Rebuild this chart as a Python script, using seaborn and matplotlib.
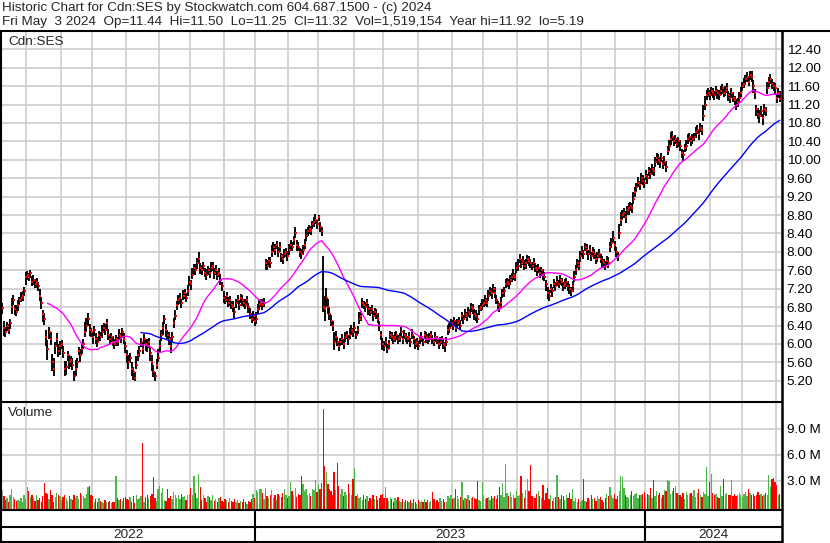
import numpy as np
import pandas as pd
import matplotlib
matplotlib.use("Agg")
import matplotlib.pyplot as plt
import seaborn as sns
from matplotlib.lines import Line2D
from matplotlib.transforms import blended_transform_factory

# ------------------------------------------------------------------ text
header_1 = "Historic Chart for Cdn:SES by Stockwatch.com 604.687.1500 - (c) 2024"
header_2 = ("Fri May  3 2024  Op=11.44  Hi=11.50  Lo=11.25  Cl=11.32  "
            "Vol=1,519,154  Year hi=11.92  lo=5.19")
symbol_label = "Cdn:SES"
volume_label = "Volume"

# ------------------------------------------------------------------ calendar (TSX trading days)
first_day = "2022-05-09"
last_day = "2024-05-03"
tsx_holidays = ["2022-05-23", "2022-07-01", "2022-08-01", "2022-09-05", "2022-10-10",
                "2022-12-26", "2022-12-27",
                "2023-01-02", "2023-02-20", "2023-04-07", "2023-05-22", "2023-07-03",
                "2023-08-07", "2023-09-04", "2023-10-09", "2023-12-25", "2023-12-26",
                "2024-01-01", "2024-02-19", "2024-03-29"]

# ------------------------------------------------------------------ daily closes
close = [
    6.79, 6.35, 6.25, 6.40, 6.30, 6.45, 6.80, 6.95, 6.75, 6.70,
    6.85, 6.95, 7.00, 7.05, 7.15, 7.45, 7.50, 7.45, 7.55, 7.35,
    7.40, 7.30, 7.35, 7.25, 7.05, 6.90, 6.65, 6.55, 6.15, 5.88,
    6.25, 6.10, 5.60, 5.45, 5.95, 6.10, 5.85, 5.95, 6.00, 5.80,
    5.45, 5.50, 5.75, 5.60, 5.65, 5.55, 5.30, 5.45, 5.60, 5.85,
    5.75, 5.90, 6.00, 6.25, 6.40, 6.55, 6.30, 6.25, 6.15, 6.30,
    6.10, 6.05, 6.20, 6.15, 6.25, 6.35, 6.30, 6.45, 6.20, 6.10,
    6.15, 6.05, 6.00, 6.10, 6.05, 6.20, 6.15, 6.25, 6.10, 5.95,
    5.75, 5.60, 5.70, 5.45, 5.40, 5.25, 5.55, 5.75, 5.85, 6.05,
    5.90, 6.10, 6.00, 5.95, 6.05, 5.80, 5.60, 5.40, 5.30, 5.55,
    5.70, 5.95, 6.20, 6.35, 6.55, 6.30, 6.20, 6.10, 5.95, 6.15,
    6.46, 6.60, 6.85, 6.95, 7.00, 6.90, 7.05, 7.10, 7.00, 7.15,
    7.35, 7.30, 7.50, 7.65, 7.60, 7.75, 7.85, 7.65, 7.60, 7.70,
    7.55, 7.50, 7.60, 7.55, 7.65, 7.70, 7.55, 7.60, 7.50, 7.55,
    7.40, 7.25, 7.00, 6.95, 7.05, 6.90, 6.95, 6.85, 6.80, 6.70,
    6.90, 6.95, 6.85, 7.00, 6.95, 6.90, 6.85, 6.95, 6.80, 6.65,
    6.55, 6.60, 6.50, 6.55, 6.75, 6.85, 6.90, 6.85, 6.90, 7.75,
    7.70, 7.80, 7.75, 8.00, 8.10, 8.05, 8.15, 8.00, 8.10, 7.90,
    7.85, 7.95, 8.00, 7.90, 8.05, 8.15, 8.10, 8.25, 8.40, 8.15,
    8.10, 8.00, 7.95, 8.05, 8.15, 8.35, 8.45, 8.50, 8.45, 8.60,
    8.65, 8.70, 8.60, 8.75, 8.55, 8.45, 6.80, 6.75, 7.00, 6.80,
    6.65, 6.50, 6.38, 6.05, 6.15, 6.05, 5.95, 6.05, 6.10, 6.00,
    6.15, 6.20, 6.10, 6.20, 6.30, 6.25, 6.35, 6.20, 6.30, 6.55,
    6.60, 6.90, 6.85, 6.80, 6.90, 6.75, 6.70, 6.75, 6.60, 6.70,
    6.65, 6.55, 6.40, 6.20, 6.00, 5.95, 6.05, 5.90, 6.00, 6.20,
    6.15, 6.10, 6.15, 6.20, 6.10, 6.15, 6.25, 6.10, 6.20, 6.15,
    6.10, 6.15, 6.05, 6.20, 6.10, 6.00, 6.05, 5.95, 6.10, 6.15,
    6.05, 6.20, 6.15, 6.10, 6.15, 6.20, 6.10, 6.05, 6.15, 6.10,
    6.00, 6.05, 6.10, 6.00, 5.95, 6.05, 6.30, 6.35, 6.45, 6.40,
    6.50, 6.35, 6.45, 6.50, 6.40, 6.60, 6.55, 6.65, 6.60, 6.70,
    6.65, 6.80, 6.75, 6.65, 6.60, 6.55, 6.75, 6.80, 6.85, 6.90,
    6.95, 6.90, 7.05, 7.15, 7.10, 7.20, 7.10, 6.95, 6.85, 6.80,
    6.90, 7.10, 7.15, 7.30, 7.35, 7.30, 7.40, 7.45, 7.50, 7.45,
    7.65, 7.70, 7.85, 7.75, 7.80, 7.70, 7.75, 7.85, 7.80, 7.75,
    7.70, 7.75, 7.65, 7.60, 7.65, 7.55, 7.60, 7.50, 7.45, 7.30,
    7.10, 7.05, 7.20, 7.15, 7.30, 7.25, 7.35, 7.30, 7.40, 7.35,
    7.25, 7.30, 7.35, 7.25, 7.20, 7.15, 7.25, 7.45, 7.60, 7.75,
    7.70, 7.90, 8.00, 7.95, 8.10, 8.05, 7.95, 8.05, 7.90, 8.00,
    7.95, 7.85, 7.90, 7.95, 7.85, 7.80, 7.75, 7.70, 7.80, 7.75,
    8.10, 8.20, 8.30, 8.15, 8.00, 7.90, 8.40, 8.70, 8.80, 8.85,
    8.75, 8.90, 8.95, 9.00, 8.95, 9.15, 9.30, 9.40, 9.50, 9.45,
    9.60, 9.55, 9.50, 9.65, 9.60, 9.75, 9.70, 9.80, 9.75, 9.95,
    10.05, 10.00, 9.95, 10.05, 9.90, 9.95, 9.85, 10.20, 10.30, 10.45,
    10.50, 10.40, 10.45, 10.35, 10.40, 10.30, 10.15, 10.10, 10.25, 10.30,
    10.45, 10.50, 10.40, 10.45, 10.50, 10.60, 10.65, 10.55, 10.70, 10.65,
    10.95, 11.20, 11.40, 11.45, 11.40, 11.50, 11.45, 11.40, 11.50, 11.45,
    11.40, 11.50, 11.55, 11.45, 11.50, 11.55, 11.40, 11.35, 11.45, 11.35,
    11.30, 11.20, 11.25, 11.35, 11.45, 11.60, 11.65, 11.75, 11.80, 11.70,
    11.85, 11.80, 11.60, 11.45, 11.10, 11.00, 10.95, 11.05, 10.90, 11.10,
    11.05, 11.55, 11.70, 11.75, 11.65, 11.60, 11.55, 11.35, 11.45, 11.32,
]

# daily high above close, in cents
high_above_cents = [
    10, 15, 12, 8, 14, 10, 20, 12, 9, 15, 11, 8, 13, 10, 9, 12, 8, 10, 6, 12,
    9, 12, 8, 10, 14, 12, 9, 13, 15, 20, 12, 16, 18, 25, 10, 14, 16, 12, 9, 15,
    18, 12, 10, 16, 8, 14, 12, 20, 10, 9, 14, 12, 10, 22, 16, 12, 14, 10, 12, 9,
    14, 10, 8, 12, 16, 10, 14, 9, 12, 10, 8, 13, 11, 9, 10, 12, 8, 10, 14, 9,
    12, 15, 10, 16, 9, 14, 18, 12, 10, 9, 14, 12, 10, 15, 9, 12, 16, 14, 10, 12,
    18, 14, 10, 12, 9, 14, 10, 16, 20, 12, 10, 14, 9, 12, 10, 8, 12, 9, 11, 14,
    12, 10, 15, 9, 13, 11, 14, 10, 12, 8, 10, 12, 9, 11, 13, 8, 10, 12, 9, 10,
    12, 9, 14, 10, 8, 12, 10, 9, 14, 11, 8, 12, 10, 9, 11, 8, 12, 10, 9, 13,
    10, 12, 9, 14, 12, 10, 8, 12, 9, 10, 12, 8, 14, 16, 11, 12, 9, 10, 12, 8,
    10, 12, 9, 11, 13, 10, 12, 9, 14, 10, 12, 9, 11, 10, 12, 14, 10, 9, 12, 8,
    10, 12, 9, 6, 10, 8, 110, 30, 22, 18, 16, 14, 12, 20, 14, 10, 12, 9, 11, 10,
    12, 9, 10, 14, 11, 10, 12, 8, 10, 14, 12, 10, 9, 11, 8, 12, 10, 9, 11, 8,
    10, 12, 9, 8, 14, 12, 10, 11, 9, 8, 10, 9, 12, 8, 10, 9, 11, 8, 10, 9,
    8, 10, 9, 12, 8, 10, 9, 11, 8, 10, 9, 8, 10, 12, 9, 8, 10, 9, 11, 8,
    9, 10, 8, 11, 9, 10, 12, 10, 9, 11, 8, 12, 10, 9, 11, 10, 8, 12, 9, 10,
    11, 9, 12, 10, 14, 12, 9, 10, 12, 8, 11, 10, 13, 9, 12, 10, 14, 11, 9, 10,
    12, 10, 9, 11, 8, 12, 10, 9, 13, 10, 12, 14, 10, 9, 11, 12, 10, 9, 12, 10,
    9, 11, 10, 12, 9, 10, 8, 12, 11, 9, 14, 12, 10, 9, 11, 10, 12, 9, 10, 8,
    10, 12, 9, 11, 10, 9, 12, 14, 12, 10, 13, 11, 12, 10, 9, 12, 10, 11, 9, 10,
    12, 10, 9, 11, 10, 12, 9, 10, 12, 14, 12, 10, 16, 9, 11, 10, 20, 16, 12, 10,
    14, 10, 12, 9, 11, 14, 12, 10, 12, 9, 11, 13, 10, 12, 9, 10, 12, 11, 10, 12,
    10, 12, 11, 9, 10, 14, 12, 10, 13, 15, 12, 10, 9, 11, 10, 12, 9, 11, 10, 12,
    11, 9, 12, 10, 9, 11, 10, 12, 9, 10, 25, 18, 12, 10, 11, 9, 12, 10, 11, 9,
    12, 10, 9, 11, 10, 12, 9, 11, 10, 12, 9, 11, 10, 12, 14, 10, 12, 9, 11, 8,
    7, 12, 14, 9, 10, 12, 14, 11, 10, 12, 9, 14, 10, 12, 11, 10, 12, 9, 10, 18,
]

# daily low below close, in cents
low_below_cents = [
    14, 18, 10, 12, 8, 12, 15, 10, 12, 9, 14, 10, 8, 12, 10, 18, 12, 9, 11, 10,
    12, 9, 14, 10, 12, 15, 18, 14, 20, 22, 15, 12, 18, 14, 16, 12, 14, 18, 12, 10,
    15, 18, 12, 14, 16, 12, 10, 14, 12, 10, 15, 11, 12, 10, 14, 16, 12, 10, 14, 12,
    10, 12, 14, 9, 11, 12, 10, 14, 12, 9, 11, 10, 12, 14, 9, 10, 12, 11, 10, 14,
    16, 14, 12, 15, 18, 6, 10, 12, 14, 11, 12, 10, 15, 12, 14, 16, 18, 12, 10, 9,
    10, 12, 14, 16, 12, 15, 10, 12, 14, 11, 12, 9, 12, 10, 14, 11, 10, 12, 9, 11,
    10, 12, 9, 14, 10, 12, 11, 13, 10, 12, 9, 11, 10, 12, 9, 11, 13, 10, 12, 9,
    11, 10, 12, 9, 13, 10, 12, 9, 10, 14, 12, 9, 11, 10, 12, 9, 10, 11, 12, 10,
    9, 11, 10, 12, 9, 11, 10, 12, 9, 15, 10, 12, 9, 11, 10, 12, 9, 11, 10, 12,
    11, 9, 12, 10, 11, 12, 9, 11, 10, 12, 9, 11, 10, 12, 9, 11, 10, 12, 9, 11,
    10, 9, 11, 8, 12, 10, 10, 25, 20, 15, 14, 12, 10, 18, 12, 10, 11, 9, 12, 10,
    11, 10, 12, 9, 11, 10, 12, 10, 9, 11, 10, 12, 9, 11, 10, 12, 9, 10, 11, 9,
    10, 9, 11, 12, 14, 10, 12, 9, 11, 10, 9, 11, 10, 12, 9, 10, 11, 9, 10, 11,
    9, 10, 11, 9, 10, 12, 11, 9, 10, 11, 9, 10, 12, 9, 10, 11, 9, 10, 11, 9,
    10, 9, 11, 10, 12, 9, 10, 11, 9, 10, 11, 9, 10, 12, 9, 10, 11, 9, 10, 11,
    9, 11, 10, 12, 11, 10, 12, 9, 11, 10, 12, 9, 11, 10, 12, 10, 11, 9, 12, 10,
    11, 10, 12, 9, 11, 10, 12, 11, 10, 9, 11, 12, 10, 11, 9, 10, 12, 11, 10, 9,
    10, 11, 9, 12, 10, 11, 10, 12, 9, 14, 12, 11, 10, 12, 9, 11, 10, 9, 12, 10,
    11, 10, 12, 9, 11, 10, 12, 10, 11, 9, 10, 12, 11, 10, 9, 11, 12, 10, 9, 11,
    10, 12, 11, 9, 10, 12, 11, 10, 9, 11, 10, 12, 10, 14, 11, 10, 12, 14, 10, 11,
    12, 10, 14, 11, 10, 12, 11, 10, 9, 11, 12, 10, 11, 9, 12, 10, 11, 12, 10, 11,
    10, 11, 12, 10, 11, 9, 12, 10, 11, 12, 10, 9, 11, 10, 12, 11, 10, 12, 9, 11,
    10, 12, 9, 11, 10, 12, 9, 11, 10, 12, 10, 12, 11, 9, 10, 12, 11, 10, 9, 12,
    11, 10, 12, 9, 11, 10, 12, 11, 10, 9, 12, 11, 10, 12, 9, 11, 10, 12, 11, 10,
    12, 11, 14, 12, 15, 12, 16, 11, 14, 12, 10, 12, 11, 10, 12, 11, 14, 12, 11, 7,
]

# daily volume, millions of shares
volume_m = [
    1.9, 1.2, 0.8, 1.0, 0.6, 1.4, 2.1, 1.1, 0.9, 0.7,
    0.8, 0.7, 1.0, 0.6, 1.3, 0.9, 2.3, 1.8, 1.1, 1.4,
    1.0, 0.7, 1.3, 0.8, 1.0, 0.6, 1.2, 2.7, 1.6, 1.5,
    0.9, 1.9, 1.3, 0.6, 1.1, 1.6, 1.4, 1.2, 0.8, 1.1,
    1.3, 1.0, 0.7, 1.2, 0.9, 0.8, 1.4, 1.0, 1.2, 0.9,
    1.6, 1.3, 1.2, 1.0, 1.5, 2.3, 2.4, 1.3, 1.2, 0.6,
    0.9, 0.5, 1.0, 0.7, 0.5, 0.4, 0.8, 0.6, 0.5, 0.7,
    0.4, 0.5, 0.6, 3.6, 1.0, 0.8, 0.9, 0.7, 1.0, 1.1,
    0.9, 0.8, 1.1, 0.6, 1.2, 0.4, 1.3, 0.9, 1.0, 1.2,
    7.4, 0.6, 1.1, 1.3, 1.0, 1.2, 1.5, 3.4, 1.0, 0.7,
    2.0, 2.4, 1.6, 2.2, 0.8, 0.7, 2.1, 1.0, 1.2, 0.9,
    1.7, 1.4, 1.0, 1.3, 0.9, 1.5, 1.1, 1.2, 0.8, 1.3,
    1.5, 2.2, 1.3, 3.6, 1.6, 1.0, 3.8, 2.3, 0.8, 1.3,
    1.0, 0.6, 1.2, 1.1, 0.8, 1.4, 0.7, 0.9, 0.5, 1.0,
    1.1, 0.7, 0.6, 0.9, 0.8, 0.6, 1.0, 0.7, 0.5, 0.9,
    0.6, 0.8, 0.4, 0.7, 0.6, 0.9, 0.5, 0.3, 0.7, 0.6,
    0.9, 1.5, 1.0, 1.9, 1.7, 2.1, 2.0, 1.6, 0.9, 2.2,
    1.2, 1.0, 1.3, 1.9, 1.0, 1.4, 0.8, 1.5, 1.2, 1.1,
    1.6, 2.0, 1.3, 1.0, 1.2, 2.9, 1.8, 1.4, 2.2, 1.1,
    1.5, 1.3, 3.5, 2.6, 1.8, 2.1, 1.3, 1.6, 1.2, 2.0,
    1.9, 3.1, 1.7, 2.6, 2.1, 2.7, 11.3, 4.7, 4.0, 2.6,
    2.0, 1.8, 1.3, 4.0, 1.9, 5.0, 2.4, 1.5, 2.0, 1.2,
    1.7, 1.3, 2.6, 1.6, 1.4, 3.2, 4.5, 1.2, 1.5, 1.0,
    1.1, 0.8, 1.3, 0.9, 1.2, 0.7, 1.0, 0.8, 1.4, 0.9,
    1.2, 0.8, 1.0, 1.3, 1.5, 1.0, 2.3, 1.0, 0.7, 1.1,
    0.9, 0.6, 1.0, 0.8, 1.1, 0.7, 0.5, 0.9, 0.6, 0.8,
    0.7, 0.5, 0.8, 0.4, 0.9, 0.6, 0.3, 0.8, 0.5, 0.7,
    0.6, 0.9, 0.5, 0.8, 0.6, 0.7, 1.7, 0.9, 0.5, 0.8,
    0.6, 1.0, 0.7, 0.9, 0.6, 0.5, 1.2, 1.0, 1.4, 0.9,
    1.0, 2.1, 1.2, 0.9, 1.1, 2.9, 0.8, 1.0, 0.9, 1.3,
    0.8, 1.0, 1.1, 1.0, 0.9, 3.0, 0.8, 0.7, 2.9, 1.3,
    0.9, 1.0, 1.1, 0.8, 1.2, 1.0, 1.2, 0.9, 1.4, 2.3,
    1.3, 2.7, 1.1, 4.9, 1.6, 1.2, 1.7, 1.1, 1.4, 1.0,
    1.8, 1.2, 1.4, 3.6, 1.6, 1.0, 1.9, 3.2, 1.8, 4.8,
    1.2, 1.1, 1.0, 1.5, 1.8, 1.2, 1.0, 2.5, 0.8, 1.6,
    2.2, 0.9, 1.3, 0.7, 1.0, 1.1, 3.7, 1.1, 0.9, 1.3,
    1.2, 0.8, 1.4, 1.0, 1.6, 0.9, 2.1, 0.7, 1.0, 0.6,
    0.9, 0.5, 0.8, 3.2, 0.7, 0.6, 1.0, 0.8, 1.3, 0.9,
    1.0, 0.7, 1.2, 0.9, 1.1, 0.8, 0.6, 1.0, 1.5, 1.2,
    2.3, 1.3, 1.0, 1.5, 0.9, 1.2, 1.8, 3.6, 3.4, 2.2,
    1.3, 1.1, 1.0, 1.4, 1.8, 1.2, 1.5, 1.6, 1.0, 1.3,
    1.4, 1.5, 1.7, 1.1, 1.5, 1.4, 2.2, 1.0, 3.1, 1.2,
    1.8, 1.3, 1.6, 1.0, 1.4, 1.9, 1.8, 3.1, 3.0, 1.5,
    1.8, 2.2, 2.4, 1.6, 1.3, 1.4, 1.1, 1.6, 0.9, 1.7,
    1.3, 1.5, 1.6, 1.2, 1.9, 1.1, 1.6, 2.0, 1.4, 1.1,
    1.7, 1.5, 4.6, 1.2, 2.9, 3.8, 1.6, 1.3, 1.5, 1.1,
    1.0, 2.4, 1.2, 3.2, 1.5, 1.6, 1.4, 1.3, 3.1, 1.2,
    1.5, 1.2, 1.4, 1.6, 1.3, 1.1, 1.5, 1.7, 1.2, 2.1,
    1.6, 1.3, 1.5, 1.2, 1.4, 1.7, 1.3, 1.5, 1.2, 1.4,
    1.6, 1.4, 3.7, 2.3, 3.2, 3.3, 2.9, 2.5, 1.3, 1.52,
]

price_ticks = [5.20, 5.60, 6.00, 6.40, 6.80, 7.20, 7.60, 8.00, 8.40, 8.80,
               9.20, 9.60, 10.00, 10.40, 10.80, 11.20, 11.60, 12.00, 12.40]
volume_ticks = [3.0, 6.0, 9.0]
volume_tick_labels = ["3.0 M", "6.0 M", "9.0 M"]
ma_fast_days = 30
ma_slow_days = 90

# ------------------------------------------------------------------ build table
n = len(close)
dates = pd.bdate_range(first_day, last_day, freq="C", holidays=tsx_holidays)[:n]
df = pd.DataFrame({"date": dates, "close": close})
df["i"] = np.arange(n)
df["high"] = df["close"] + np.array(high_above_cents) / 100.0
df["low"] = df["close"] - np.array(low_below_cents) / 100.0
df["volume"] = volume_m
df["ma_fast"] = df["close"].rolling(ma_fast_days).mean()
df["ma_slow"] = df["close"].rolling(ma_slow_days).mean()
chg = df["close"].diff().round(3)
df["vdir"] = np.where(chg > 0, "up", np.where(chg < 0, "down", "flat"))

mper = df["date"].dt.to_period("M")
month_bounds = df["i"][mper != mper.shift()].values[1:] - 0.5
yrs = df["date"].dt.year
year_bounds = df["i"][yrs != yrs.shift()].values[1:] - 0.5
year_names = sorted(yrs.unique())

# ------------------------------------------------------------------ layout (pixels)
W, H = 830, 543
X0, DX = 2.3, 1.558                      # pixel of bar 0, pixels per bar


def px_to_i(px):
    return (px - X0) / DX


def py_to_price(py):
    return 5.20 + (380.8 - py) * 0.02172


def py_to_vol(py):
    return (506.7 - py) * 3.0 / 26.0


def rect(l, t, r, b):
    return [l / W, 1 - b / H, (r - l) / W, (b - t) / H]


sns.set_style("white")
plt.rcParams["font.family"] = ["Liberation Sans", "DejaVu Sans"]
FS = 9.7
GRID = "#c8c8c8"

fig = plt.figure(figsize=(W / 100, H / 100), dpi=100)
ax_p = fig.add_axes(rect(1, 32, 781, 400.5))
ax_v = fig.add_axes(rect(1, 403, 781, 509.5))

# price panel: OHLC bars, close ticks, moving averages
ax_p.vlines(df["i"], df["low"], df["high"], color="black", lw=1.35, zorder=2)
ax_p.plot(df["i"] + 0.35, df["close"], ls="none", marker="s", ms=1.9, mew=0,
          color="red", zorder=3)
sns.lineplot(data=df.dropna(subset=["ma_fast"]), x="i", y="ma_fast", ax=ax_p,
             color="#ff00ff", lw=1.0, estimator=None, zorder=4)
sns.lineplot(data=df.dropna(subset=["ma_slow"]), x="i", y="ma_slow", ax=ax_p,
             color="#0000ff", lw=1.0, estimator=None, zorder=4)

# volume panel
vb = py_to_vol(509.5)
palette = {"up": "#4cb848", "down": "#ff0000", "flat": "#a0a0a0"}
ax_v.bar(df["i"], df["volume"] - vb, bottom=vb, width=0.85,
         color=df["vdir"].map(palette), lw=0, zorder=2)

for ax in (ax_p, ax_v):
    ax.set_facecolor("white")
    for s in ax.spines.values():
        s.set_visible(False)
    ax.set_xlim(px_to_i(1), px_to_i(781))
    ax.set_xticks(month_bounds)
    ax.tick_params(axis="x", length=0, labelbottom=False)
    ax.tick_params(axis="y", length=0, labelleft=False, labelright=True,
                   pad=4, labelsize=FS, colors="black")
    ax.grid(True, color=GRID, lw=1.1)
    ax.set_axisbelow(True)
    ax.set_xlabel("")
    ax.set_ylabel("")

ax_p.set_ylim(py_to_price(400.5), py_to_price(32))
ax_p.set_yticks(price_ticks)
ax_p.set_yticklabels([f"{t:.2f}" for t in price_ticks])
ax_v.set_ylim(vb, py_to_vol(403))
ax_v.set_yticks(volume_ticks)
ax_v.set_yticklabels(volume_tick_labels)

# ------------------------------------------------------------------ frame lines
LW = 1.5


def hline(y, x0, x1, lw=LW):
    fig.add_artist(Line2D([x0 / W, x1 / W], [1 - y / H, 1 - y / H], color="black",
                          lw=lw, transform=fig.transFigure, solid_capstyle="butt"))


def vline(x, y0, y1, lw=LW):
    fig.add_artist(Line2D([x / W, x / W], [1 - y0 / H, 1 - y1 / H], color="black",
                          lw=lw, transform=fig.transFigure, solid_capstyle="butt"))


hline(30.5, 0, 830)
hline(401.7, 0, 782)
hline(510.3, 0, 782)
hline(526.5, 0, 782)
hline(541.8, 0, 782)
vline(1.0, 30, 543)
vline(782.3, 30, 543, lw=1.8)

tr = blended_transform_factory(ax_v.transData, fig.transFigure)
for b in year_bounds:
    fig.add_artist(Line2D([b, b], [1 - 510 / H, 1 - 542 / H], color="black", lw=LW,
                          transform=tr, solid_capstyle="butt"))

edges = [px_to_i(1)] + list(year_bounds) + [px_to_i(782)]
for k, yname in enumerate(year_names):
    fig.text((edges[k] + edges[k + 1]) / 2, 1 - 534.5 / H, str(yname), transform=tr,
             ha="center", va="center", fontsize=FS)

# ------------------------------------------------------------------ texts
fig.text(2 / W, 1 - 8.5 / H, header_1, ha="left", va="center", fontsize=FS)
fig.text(2 / W, 1 - 22.5 / H, header_2, ha="left", va="center", fontsize=FS)
fig.text(8 / W, 1 - 42 / H, symbol_label, ha="left", va="center", fontsize=FS)
fig.text(8 / W, 1 - 413 / H, volume_label, ha="left", va="center", fontsize=FS)

fig.savefig("out.png", dpi=100, facecolor="white")
